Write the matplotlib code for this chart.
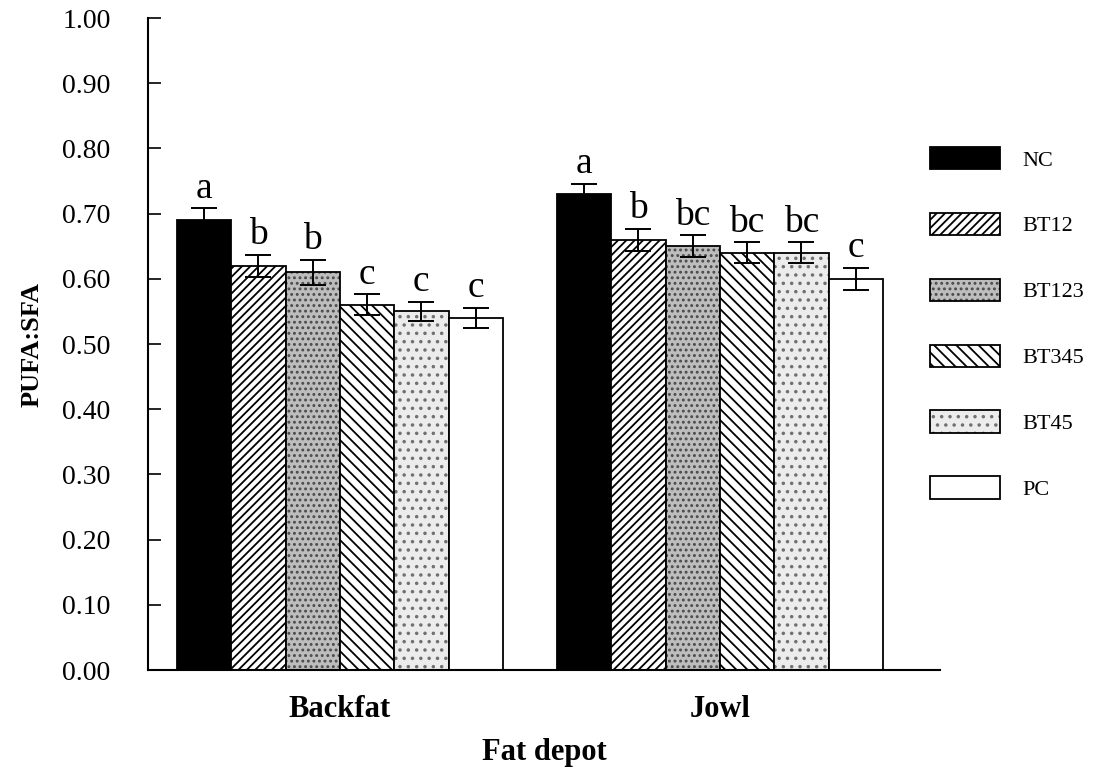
import matplotlib
matplotlib.use('Agg')
import matplotlib.pyplot as plt
import numpy as np

# datos
depots = ['Backfat', 'Jowl']
treatments = ['NC', 'BT12', 'BT123', 'BT345', 'BT45', 'PC']
backfat = [0.69, 0.62, 0.61, 0.56, 0.55, 0.54]
backfat_err = [0.018, 0.017, 0.019, 0.016, 0.015, 0.016]
jowl = [0.73, 0.66, 0.65, 0.64, 0.64, 0.60]
jowl_err = [0.016, 0.017, 0.017, 0.016, 0.016, 0.017]
backfat_letters = ['a', 'b', 'b', 'c', 'c', 'c']
jowl_letters = ['a', 'b', 'bc', 'bc', 'bc', 'c']

colores = ['black', 'white', '#bdbdbd', 'white', '#ececec', 'white']
tramas = [None, '////', '...', '\\\\\\', '..', None]
color_trama = ['black', 'black', '#4a4a4a', 'black', '#707070', 'black']

plt.rcParams['font.family'] = ['Liberation Serif', 'DejaVu Serif']
plt.rcParams['hatch.linewidth'] = 1.3

fig = plt.figure(figsize=(10.93, 7.77), dpi=100)
ax = fig.add_axes([0.1354, 0.1377, 0.7246, 0.8391])

x = np.arange(len(depots))
ancho = 0.143
valores = np.array([backfat, jowl])
errores = np.array([backfat_err, jowl_err])
letras = [backfat_letters, jowl_letters]

manejadores = []
for i, t in enumerate(treatments):
    pos = x + (i - 2.5) * ancho
    relleno = ax.bar(pos, valores[:, i], ancho, color=colores[i],
                     edgecolor=color_trama[i], linewidth=0, hatch=tramas[i])
    borde = ax.bar(pos, valores[:, i], ancho, fill=False, edgecolor='black',
                   linewidth=1.3)
    manejadores.append((relleno.patches[0], borde.patches[0]))
    ax.errorbar(pos, valores[:, i], yerr=errores[:, i], fmt='none',
                ecolor='black', elinewidth=1.4, capsize=9.5, capthick=1.4)
    for g in range(len(depots)):
        ax.text(pos[g], valores[g, i] + errores[g, i] + 0.004, letras[g][i],
                ha='center', va='bottom', fontsize=27)

ax.set_xlim(-0.505, 1.579)
ax.set_ylim(0, 1.0)
ax.set_yticks(np.arange(0, 1.01, 0.1))
ax.set_yticklabels(['%.2f' % v for v in np.arange(0, 1.01, 0.1)])
ax.set_xticks(x)
ax.set_xticklabels(depots, fontweight='bold', fontsize=22)
ax.tick_params(axis='y', direction='in', length=9, width=1.2, pad=27,
               labelsize=20)
ax.tick_params(axis='x', length=0, pad=18)
ax.spines['top'].set_visible(False)
ax.spines['right'].set_visible(False)
ax.spines['left'].set_linewidth(1.5)
ax.spines['bottom'].set_linewidth(1.5)

ax.set_xlabel('Fat depot', fontweight='bold', fontsize=22, labelpad=10)
ax.set_ylabel('PUFA:SFA', fontweight='bold', fontsize=19)
ax.yaxis.set_label_coords(-0.132, 0.5)

fig.legend(manejadores, treatments, loc='upper left',
           bbox_to_anchor=(0.851, 0.811), frameon=False,
           fontsize=16, handlelength=3.15, handleheight=1.17,
           labelspacing=1.9, handletextpad=1.0, borderaxespad=0,
           borderpad=0)

fig.savefig('out.png', dpi=100)
